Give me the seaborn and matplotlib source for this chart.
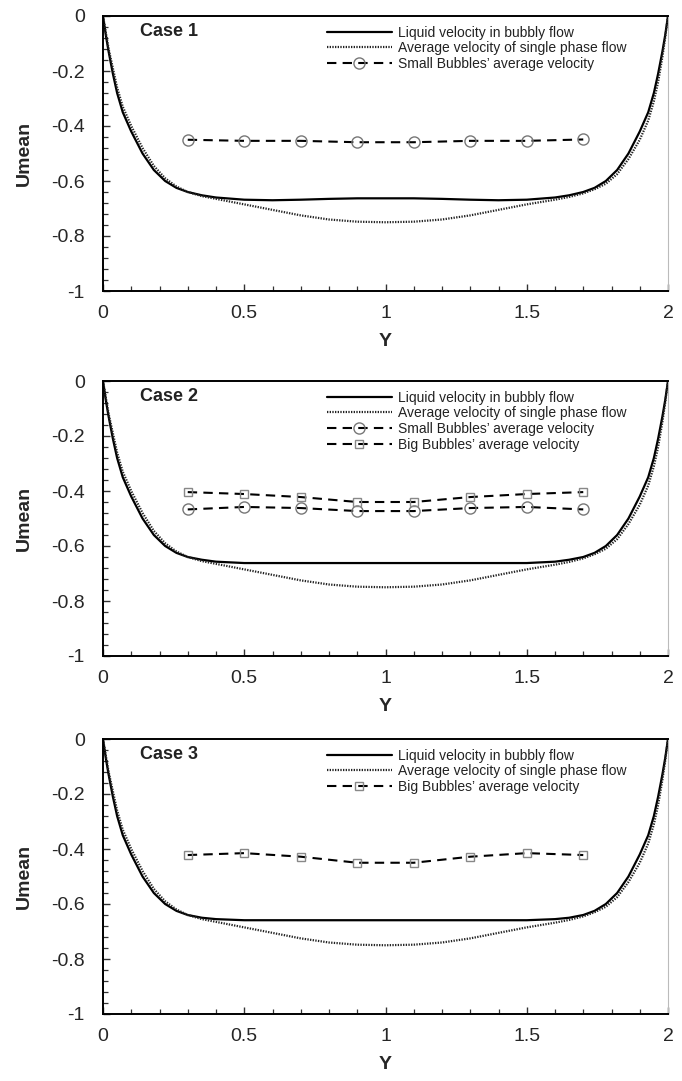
import matplotlib
matplotlib.use("Agg")
import matplotlib.pyplot as plt
import seaborn as sns
import pandas as pd
from matplotlib.ticker import MultipleLocator, FormatStrFormatter

# ---------------- data ----------------
Y_PROFILE = [0, 0.01, 0.02, 0.035, 0.05, 0.07, 0.1, 0.14, 0.18, 0.22, 0.26, 0.3, 0.35, 0.4,
             0.5, 0.6, 0.7, 0.8, 0.9, 1.0, 1.1, 1.2, 1.3, 1.4, 1.5, 1.6, 1.65, 1.7, 1.74,
             1.78, 1.82, 1.86, 1.9, 1.93, 1.95, 1.965, 1.98, 1.99, 2.0]

LIQUID_CASE1 = [0, -0.07, -0.13, -0.21, -0.28, -0.35, -0.42, -0.50, -0.56, -0.60, -0.625, -0.64,
                -0.652, -0.66, -0.668, -0.67, -0.668, -0.665, -0.663, -0.663, -0.663, -0.665,
                -0.668, -0.67, -0.668, -0.66, -0.652, -0.64, -0.625, -0.60, -0.56, -0.50,
                -0.42, -0.35, -0.28, -0.21, -0.13, -0.07, 0]
LIQUID_CASE2 = [0, -0.07, -0.13, -0.21, -0.28, -0.35, -0.42, -0.50, -0.56, -0.60, -0.625, -0.64,
                -0.65, -0.657, -0.662, -0.662, -0.662, -0.662, -0.662, -0.662, -0.662, -0.662,
                -0.662, -0.662, -0.662, -0.657, -0.65, -0.64, -0.625, -0.60, -0.56, -0.50,
                -0.42, -0.35, -0.28, -0.21, -0.13, -0.07, 0]
LIQUID_CASE3 = [0, -0.07, -0.13, -0.21, -0.28, -0.35, -0.42, -0.50, -0.56, -0.60, -0.625, -0.64,
                -0.65, -0.655, -0.659, -0.659, -0.659, -0.659, -0.659, -0.659, -0.659, -0.659,
                -0.659, -0.659, -0.659, -0.655, -0.65, -0.64, -0.625, -0.60, -0.56, -0.50,
                -0.42, -0.35, -0.28, -0.21, -0.13, -0.07, 0]
SINGLE_PHASE = [0, -0.06, -0.12, -0.19, -0.26, -0.33, -0.40, -0.48, -0.545, -0.59, -0.62, -0.64,
                -0.655, -0.665, -0.685, -0.705, -0.725, -0.74, -0.748, -0.75, -0.748, -0.74,
                -0.725, -0.705, -0.685, -0.668, -0.658, -0.645, -0.63, -0.61, -0.575, -0.52,
                -0.45, -0.38, -0.31, -0.24, -0.15, -0.08, 0]

Y_BUBBLE = [0.3, 0.5, 0.7, 0.9, 1.1, 1.3, 1.5, 1.7]
SMALL_CASE1 = [-0.450, -0.454, -0.454, -0.459, -0.459, -0.454, -0.454, -0.449]
SMALL_CASE2 = [-0.467, -0.458, -0.462, -0.473, -0.473, -0.462, -0.458, -0.467]
BIG_CASE2 = [-0.404, -0.411, -0.422, -0.440, -0.440, -0.422, -0.411, -0.404]
BIG_CASE3 = [-0.422, -0.415, -0.428, -0.450, -0.450, -0.428, -0.415, -0.422]

CASE_TITLES = ["Case 1", "Case 2", "Case 3"]
LBL_LIQ = "Liquid velocity in bubbly flow"
LBL_SP = "Average velocity of single phase flow"
LBL_SMALL = "Small Bubbles\u2019 average velocity"
LBL_BIG = "Big Bubbles\u2019 average velocity"
X_TICKS = [0, 0.5, 1, 1.5, 2]
Y_TICKS = [0, -0.2, -0.4, -0.6, -0.8, -1]

# ---------------- style ----------------
sns.set_style("white")
plt.rcParams["font.family"] = ["Liberation Sans", "DejaVu Sans"]
plt.rcParams["axes.unicode_minus"] = False

W, H = 682, 1081
fig = plt.figure(figsize=(W / 100, H / 100), dpi=100)

panels = [(16, 291), (381, 656), (739, 1014)]
left_px, right_px = 103, 668

cases = [
    dict(liq=LIQUID_CASE1, small=SMALL_CASE1, big=None),
    dict(liq=LIQUID_CASE2, small=SMALL_CASE2, big=BIG_CASE2),
    dict(liq=LIQUID_CASE3, small=None, big=BIG_CASE3),
]

for i, ((top, bot), cs) in enumerate(zip(panels, cases)):
    ax = fig.add_axes([left_px / W, 1 - bot / H, (right_px - left_px) / W, (bot - top) / H])
    prof = pd.DataFrame({"Y": Y_PROFILE, "liq": cs["liq"], "sp": SINGLE_PHASE})
    sns.lineplot(data=prof, x="Y", y="liq", ax=ax, sort=False, estimator=None,
                 color="black", lw=1.6, label=LBL_LIQ)
    sns.lineplot(data=prof, x="Y", y="sp", ax=ax, sort=False, estimator=None,
                 color="#222222", lw=1.6, ls=(0, (0.6, 0.6)), label=LBL_SP)
    if cs["small"] is not None:
        sm = pd.DataFrame({"Y": Y_BUBBLE, "U": cs["small"]})
        sns.lineplot(data=sm, x="Y", y="U", ax=ax, sort=False, estimator=None,
                     color="black", lw=1.5, ls=(0, (4.5, 3)), marker="o", markersize=8,
                     markerfacecolor="none", markeredgecolor="#777777", markeredgewidth=1.0,
                     label=LBL_SMALL)
    if cs["big"] is not None:
        bg = pd.DataFrame({"Y": Y_BUBBLE, "U": cs["big"]})
        sns.lineplot(data=bg, x="Y", y="U", ax=ax, sort=False, estimator=None,
                     color="black", lw=1.5, ls=(0, (4.5, 3)), marker="s", markersize=6,
                     markerfacecolor="none", markeredgecolor="#888888", markeredgewidth=1.0,
                     label=LBL_BIG)

    ax.set_xlim(0, 2)
    ax.set_ylim(-1, 0)
    ax.set_xticks(X_TICKS)
    ax.set_yticks(Y_TICKS)
    ax.xaxis.set_major_formatter(FormatStrFormatter("%g"))
    ax.yaxis.set_major_formatter(FormatStrFormatter("%g"))
    ax.xaxis.set_minor_locator(MultipleLocator(0.1))
    ax.yaxis.set_minor_locator(MultipleLocator(0.04))
    ax.tick_params(axis="both", which="major", direction="in", length=5, width=1.0,
                   labelsize=14, color="#333333")
    ax.tick_params(axis="both", which="minor", direction="in", length=3.5, width=0.9,
                   color="#333333")
    ax.tick_params(axis="y", which="both", left=True, right=False, pad=13)
    ax.tick_params(axis="x", which="both", bottom=True, top=False, pad=10)
    for s in ["left", "bottom", "top"]:
        ax.spines[s].set_color("black")
        ax.spines[s].set_linewidth(1.4)
    ax.spines["right"].set_color("#bbbbbb")
    ax.spines["right"].set_linewidth(0.8)

    ax.set_xlabel("Y", fontsize=14, fontweight="bold", labelpad=8)
    ax.set_ylabel("Umean", fontsize=14, fontweight="bold", labelpad=13)

    ax.text(0.066, 0.945, CASE_TITLES[i], transform=ax.transAxes, fontsize=13,
            fontweight="bold", va="center", ha="left", color="#222222")

    leg = ax.legend(loc="upper left", bbox_to_anchor=(0.396, 0.965), frameon=False,
                    fontsize=10, handlelength=4.7, handletextpad=0.4, labelspacing=0.12,
                    borderpad=0, borderaxespad=0, numpoints=1)
    for t in leg.get_texts():
        t.set_color("#222222")

fig.savefig("out.png", dpi=100)
